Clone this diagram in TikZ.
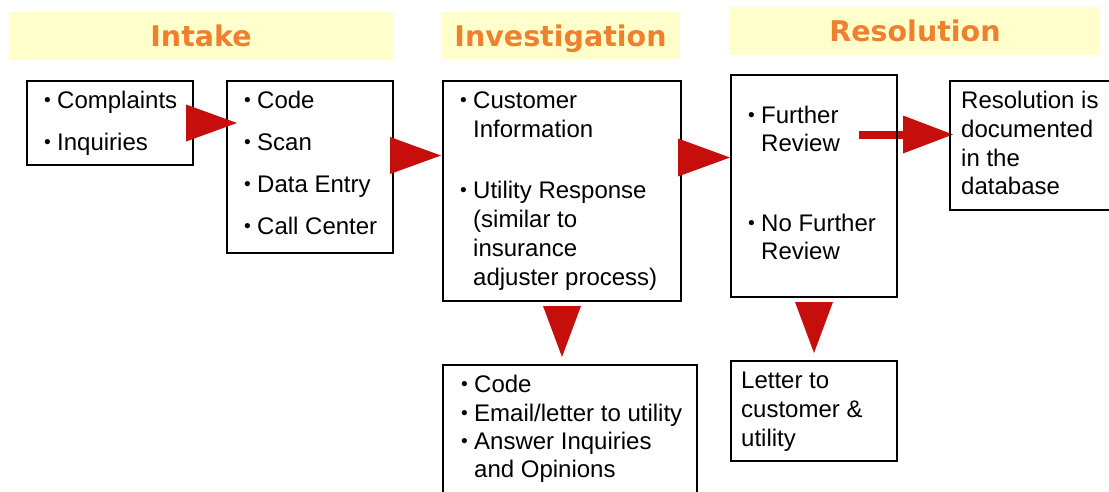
\documentclass[tikz,border=0pt]{standalone}
\usepackage{fontspec}
\setmainfont{Liberation Sans}
\newfontfamily\headfont{DejaVu Sans}
\usetikzlibrary{backgrounds}
\definecolor{baryellow}{RGB}{255,255,204}
\definecolor{headorange}{RGB}{239,128,48}
\definecolor{arrowred}{RGB}{198,14,12}
\newcommand\mybul[4]{\node[txt] (#1) at (#2,#3) {\makebox[13pt][l]{\raisebox{1.6pt}{\scalebox{0.8}{\textbullet}}}#4};}
\newcommand\myline[4]{\node[txt] (#1) at (#2,#3) {#4};}
\begin{document}
\begin{tikzpicture}[x=1pt,y=-1pt,
  box/.style={draw=black, line width=2pt, inner sep=0pt, anchor=north west},
  bar/.style={fill=baryellow, draw=none, inner sep=0pt, anchor=north west},
  head/.style={font=\headfont\bfseries\fontsize{28.5}{30}\selectfont, text=headorange, anchor=base, inner sep=0pt},
  txt/.style={font=\fontsize{24}{29}\selectfont, anchor=base west, inner sep=0pt},
  redfill/.style={fill=arrowred, draw=none}]
\useasboundingbox (0,0) rectangle (1109,491);

% header bars
\node[bar, minimum width=384pt, minimum height=48pt] (barI) at (9,12) {};
\node[head] (hI) at (201,46) {Intake};
\node[bar, minimum width=239pt, minimum height=47pt] (barV) at (441,12) {};
\node[head] (hV) at (560.5,46) {Investigation};
\node[bar, minimum width=371pt, minimum height=48pt] (barR) at (729,7) {};
\node[head] (hR) at (915,41) {Resolution};

% boxes
\node[box, minimum width=166pt, minimum height=84pt] (a) at (26,80) {};
\node[box, minimum width=166pt, minimum height=172pt] (b) at (226,80) {};
\node[box, minimum width=238pt, minimum height=220pt] (c) at (442,80) {};
\node[box, minimum width=166pt, minimum height=222pt] (d) at (730,74) {};
\node[box, minimum width=200pt, minimum height=129pt] (e) at (949,80) {};
\node[box, minimum width=254pt, minimum height=150pt] (f) at (442,364) {};
\node[box, minimum width=166pt, minimum height=100pt] (g) at (730,360) {};

% texts
\mybul{a1}{44}{108}{Complaints}
\mybul{a2}{44}{150}{Inquiries}

\mybul{b1}{244}{108}{Code}
\mybul{b2}{244}{150}{Scan}
\mybul{b3}{244}{192}{Data Entry}
\mybul{b4}{244}{234}{Call Center}

\mybul{c1}{460}{108}{Customer}
\myline{c2}{473}{137}{Information}
\mybul{c3}{460}{198}{Utility Response}
\myline{c4}{473}{227}{(similar to}
\myline{c5}{473}{256}{insurance}
\myline{c6}{473}{285}{adjuster process)}

\mybul{d1}{748}{123}{Further}
\myline{d2}{761}{151}{Review}
\mybul{d3}{748}{231}{No Further}
\myline{d4}{761}{259}{Review}

\myline{e1}{961}{108}{Resolution is}
\myline{e2}{961}{137}{documented}
\myline{e3}{961}{166}{in the}
\myline{e4}{961}{194}{database}

\mybul{f1}{461}{392}{Code}
\mybul{f2}{461}{421}{Email/letter to utility}
\mybul{f3}{461}{449}{Answer Inquiries}
\myline{f4}{474}{477}{and Opinions}

\myline{g1}{741}{388}{Letter to}
\myline{g2}{741}{417}{customer \&}
\myline{g3}{741}{446}{utility}

% red arrows
\fill[redfill] ([shift={(-8pt,18.5pt)}]a.east) -- ([shift={(43pt,0pt)}]a.east) -- ([shift={(-8pt,-18.5pt)}]a.east) -- cycle;
\fill[redfill] ([shift={(-4pt,30pt)}]b.east) -- ([shift={(47pt,11.5pt)}]b.east) -- ([shift={(-4pt,-7pt)}]b.east) -- cycle;
\fill[redfill] ([shift={(-4pt,52.5pt)}]c.east) -- ([shift={(48pt,33.5pt)}]c.east) -- ([shift={(-4pt,14.5pt)}]c.east) -- cycle;
\fill[redfill] ([shift={(-19pt,-4pt)}]c.south) -- ([shift={(19pt,-4pt)}]c.south) -- ([shift={(0pt,-55pt)}]c.south) -- cycle;
\fill[redfill] ([shift={(-19pt,-4pt)}]d.south) -- ([shift={(19pt,-4pt)}]d.south) -- ([shift={(0pt,-55pt)}]d.south) -- cycle;
\begin{pgfonlayer}{background}
\draw[arrowred, line width=8pt] ([shift={(-90pt,11pt)}]e.west) -- ([shift={(-44pt,11pt)}]e.west);
\fill[redfill] ([shift={(-46pt,30pt)}]e.west) -- ([shift={(4pt,11pt)}]e.west) -- ([shift={(-46pt,-8pt)}]e.west) -- cycle;
\end{pgfonlayer}
\end{tikzpicture}
\end{document}
